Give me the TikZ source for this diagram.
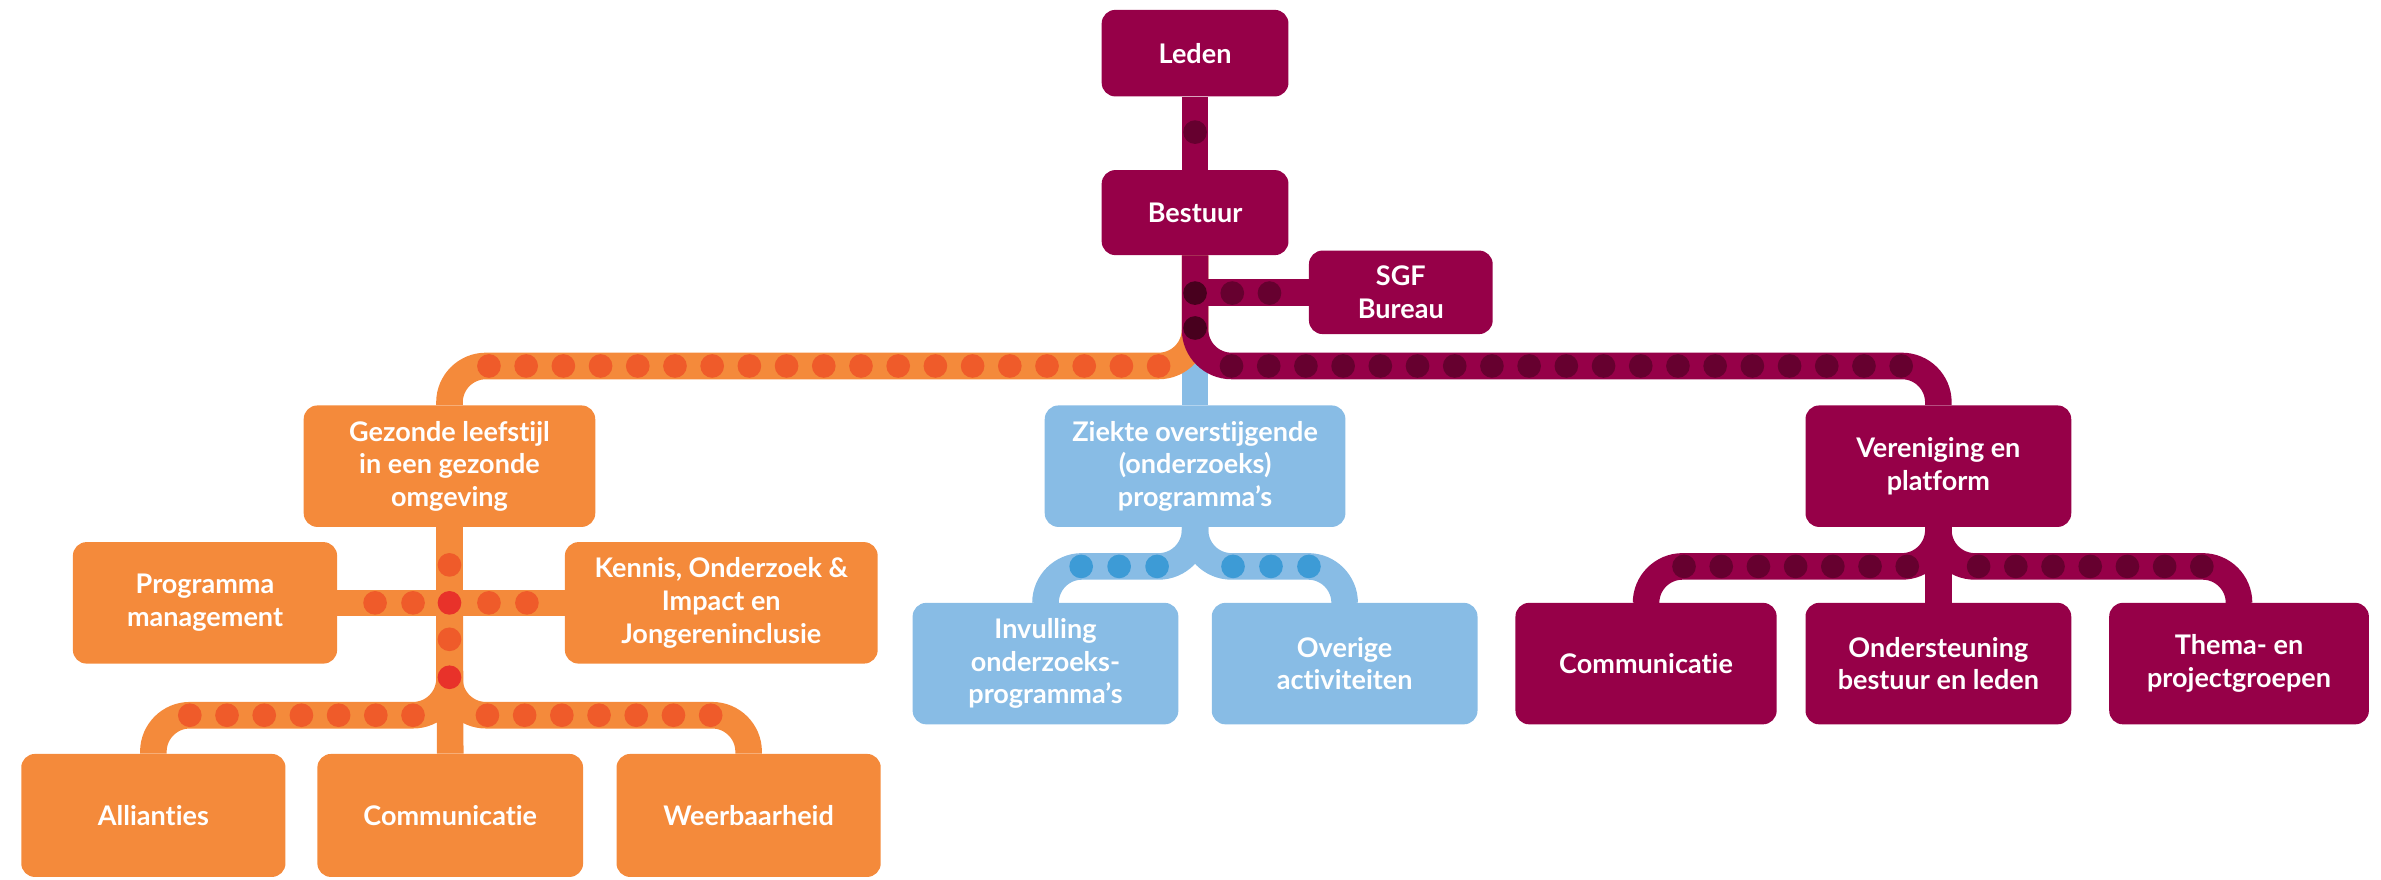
\documentclass[tikz,border=0pt]{standalone}
\usepackage{fontspec}
\setmainfont{Lato}[Ligatures=NoCommon]
\usetikzlibrary{backgrounds}

\definecolor{Paars}{HTML}{960048}
\definecolor{PaarsStip}{HTML}{66002F}
\definecolor{PaarsKruis}{HTML}{48001E}
\definecolor{Oranje}{HTML}{F48A3B}
\definecolor{OranjeStip}{HTML}{EF5B2A}
\definecolor{OranjeKruis}{HTML}{E8322A}
\definecolor{Blauw}{HTML}{88BCE5}
\definecolor{BlauwStip}{HTML}{3D9BD6}

\tikzstyle{box}=[rounded corners=9pt, inner sep=0pt, align=center, text=white, font=\bfseries\fontsize{17.8}{21.5}\selectfont, minimum height=80pt]
\tikzstyle{box-paars}=[box, fill=Paars]
\tikzstyle{box-oranje}=[box, fill=Oranje]
\tikzstyle{box-blauw}=[box, fill=Blauw]
\tikzstyle{lijn}=[line width=17.5pt, rounded corners=24pt]
\tikzstyle{lijn-paars}=[lijn, draw=Paars]
\tikzstyle{lijn-oranje}=[lijn, draw=Oranje]
\tikzstyle{lijn-blauw}=[lijn, draw=Blauw]

\begin{document}
\begin{tikzpicture}[x=1pt, y=-1pt]
      \useasboundingbox (0,0) rectangle (1568,579);

      \node (box-leden) at (787,35) [box-paars, minimum width=123pt, minimum height=57pt] {Leden};
      \node (box-bestuur) at (787,140) [box-paars, minimum width=123pt, minimum height=56pt] {Bestuur};
      \node (box-sgf) at (922.5,192.5) [box-paars, minimum width=121pt, minimum height=55pt] {SGF\\Bureau};

      \coordinate (bus-hoofd) at (787,241);
      \coordinate (bus-gezond) at (296,471);
      \coordinate (bus-ziekte) at (787,373);
      \coordinate (bus-vereniging) at (1276.5,373);

      \node (box-gezond) at (296,307) [box-oranje, minimum width=192pt] {Gezonde leefstijl\\in een gezonde\\omgeving};
      \node (box-ziekte) at (787,307) [box-blauw, minimum width=198pt] {Ziekte overstijgende\\(onderzoeks)\\programma’s};
      \node (box-vereniging) at (1276.5,307) [box-paars, minimum width=175pt] {Vereniging en\\platform};

      \node (box-programma) at (135,397) [box-oranje, minimum width=174pt] {Programma\\management};
      \node (box-kennis) at (475,397) [box-oranje, minimum width=206pt] {Kennis, Onderzoek \&\\Impact en\\Jongereninclusie};
      \node (box-allianties) at (101,537) [box-oranje, minimum width=174pt, minimum height=81pt] {Allianties};
      \node (box-communicatie1) at (296.5,537) [box-oranje, minimum width=175pt, minimum height=81pt] {Communicatie};
      \node (box-weerbaarheid) at (493,537) [box-oranje, minimum width=174pt, minimum height=81pt] {Weerbaarheid};

      \node (box-invulling) at (688.5,437) [box-blauw, minimum width=175pt] {Invulling\\onderzoeks-\\programma’s};
      \node (box-overige) at (885.5,437) [box-blauw, minimum width=175pt] {Overige\\activiteiten};

      \node (box-communicatie2) at (1084,437) [box-paars, minimum width=172pt] {Communicatie};
      \node (box-ondersteuning) at (1276.5,437) [box-paars, minimum width=175pt] {Ondersteuning\\bestuur en leden};
      \node (box-thema) at (1474.5,437) [box-paars, minimum width=171pt] {Thema- en\\projectgroepen};

      \begin{pgfonlayer}{background}
      \draw[lijn-blauw] (box-bestuur.south) -- (box-ziekte.north);
      \draw[lijn-oranje] (box-bestuur.south) -- (bus-hoofd) -| (box-gezond.north);
      \draw[lijn-paars] (box-bestuur.south) -- (bus-hoofd) -| (box-vereniging.north);
      \draw[lijn-paars] (box-leden.south) -- (box-bestuur.north);
      \draw[lijn-paars] (box-bestuur.south |- box-sgf.west) -- (box-sgf.west);

      \draw[lijn-oranje] (box-gezond.south) -- (box-communicatie1.north);
      \draw[lijn-oranje] (box-programma.east) -- (box-kennis.west);
      \draw[lijn-oranje] (box-gezond.south) -- (bus-gezond) -| (box-allianties.north);
      \draw[lijn-oranje] (box-gezond.south) -- (bus-gezond) -| (box-weerbaarheid.north);

      \draw[lijn-blauw] (box-ziekte.south) -- (bus-ziekte) -| (box-invulling.north);
      \draw[lijn-blauw] (box-ziekte.south) -- (bus-ziekte) -| (box-overige.north);

      \draw[lijn-paars] (box-vereniging.south) -- (box-ondersteuning.north);
      \draw[lijn-paars] (box-vereniging.south) -- (bus-vereniging) -| (box-communicatie2.north);
      \draw[lijn-paars] (box-vereniging.south) -- (bus-vereniging) -| (box-thema.north);

      \foreach \x in {0,...,18} \fill[OranjeStip] (322+24.5*\x,241) circle (7.8);
      \foreach \x in {0,...,18} \fill[PaarsStip] (811+24.5*\x,241) circle (7.8);
      \foreach \x in {811.5,836} \fill[PaarsStip] (\x,193) circle (7.8);
      \fill[PaarsStip] (787,87) circle (7.8);
      \foreach \y in {193,216} \fill[PaarsKruis] (787,\y) circle (7.8);

      \foreach \x in {247,272,322,347} \fill[OranjeStip] (\x,397) circle (7.8);
      \foreach \y in {372,421} \fill[OranjeStip] (296,\y) circle (7.8);
      \foreach \y in {397,446} \fill[OranjeKruis] (296,\y) circle (7.8);
      \foreach \x in {0,...,6} \fill[OranjeStip] (125+24.5*\x,471) circle (7.8);
      \foreach \x in {0,...,6} \fill[OranjeStip] (321+24.5*\x,471) circle (7.8);

      \foreach \x in {712,737,762,812,837,862} \fill[BlauwStip] (\x,373) circle (7.8);

      \foreach \x in {0,...,6} \fill[PaarsStip] (1109+24.5*\x,373) circle (7.8);
      \foreach \x in {0,...,6} \fill[PaarsStip] (1303+24.5*\x,373) circle (7.8);
      \end{pgfonlayer}
    \end{tikzpicture}
\end{document}
